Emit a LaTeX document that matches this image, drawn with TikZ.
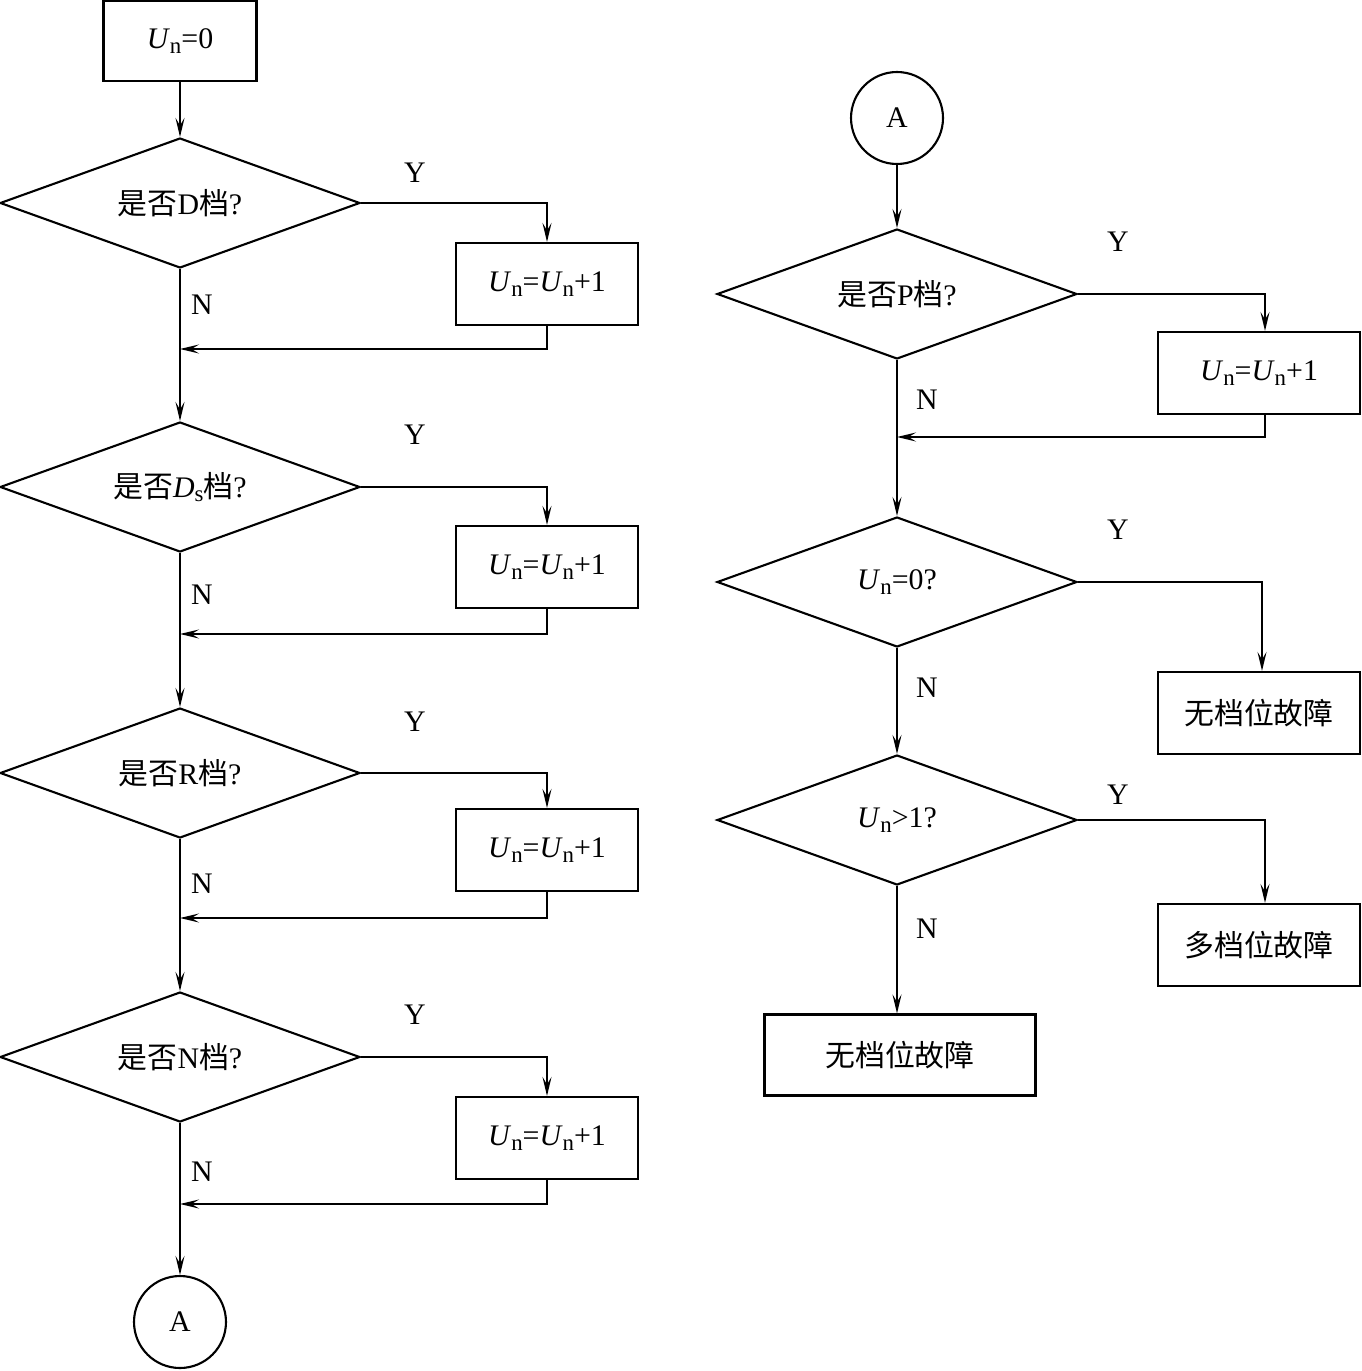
\documentclass[tikz,border=0pt]{standalone}
\usepackage{fontspec}
\setmainfont{Liberation Serif}
\newfontfamily\cjk{Noto Sans CJK SC}
\usetikzlibrary{shapes.geometric,arrows.meta}
\newcommand{\Un}{\textit{U}\raisebox{-0.35ex}{\fontsize{13}{13}\selectfont n}}
\newcommand{\Ds}{\textit{D}\raisebox{-0.35ex}{\fontsize{13}{13}\selectfont s}}
\tikzset{%
  procbox/.style = {rectangle, draw, line width=1.2pt, inner sep=0pt,%
                    minimum width=3.64cm, minimum height=1.64cm},%
  decide/.style  = {diamond, draw, line width=1.2pt, inner sep=0pt, aspect=2.77,%
                    minimum width=7.2cm, minimum height=2.6cm},%
  joint/.style   = {circle, draw, line width=1.2pt, inner sep=0pt, minimum size=1.84cm},%
  yn/.style      = {inner sep=0pt},%
  arr/.style     = {line width=1.2pt, -{Stealth[length=3.8mm,width=1.8mm,inset=1.5mm]}}%
}

\begin{document}
\begin{tikzpicture}[x=0.02cm, y=-0.02cm,
    every node/.style = {font=\fontsize{17}{20}\selectfont}]
  \useasboundingbox (0,0) rectangle (1361,1371);
  % left column
  \node [procbox, minimum width=3.06cm, minimum height=1.6cm] (start) at (180,41) {\Un=0};
  \node [decide] (qd)  at (180,203)  {{\cjk 是否}D{\cjk 档}?};
  \node [decide] (qds) at (180,487)  {{\cjk 是否}\Ds{\cjk 档}?};
  \node [decide] (qr)  at (180,773)  {{\cjk 是否}R{\cjk 档}?};
  \node [decide] (qn)  at (180,1057) {{\cjk 是否}N{\cjk 档}?};
  \node [procbox] (incd)  at (547,284)  {\Un=\Un+1};
  \node [procbox] (incds) at (547,567)  {\Un=\Un+1};
  \node [procbox] (incr)  at (547,850)  {\Un=\Un+1};
  \node [procbox] (incn)  at (547,1138) {\Un=\Un+1};
  \node [joint] (outA) at (180,1322) {A};
  \coordinate (backd)  at (180,349);
  \coordinate (backds) at (180,634);
  \coordinate (backr)  at (180,918);
  \coordinate (backn)  at (180,1204);
  \node [yn] (yd)  at (415,173)  {Y};
  \node [yn] (yds) at (415,435)  {Y};
  \node [yn] (yr)  at (415,722)  {Y};
  \node [yn] (yn4) at (415,1015) {Y};
  \node [yn] (nd)  at (202,305)  {N};
  \node [yn] (nds) at (202,595)  {N};
  \node [yn] (nr)  at (202,884)  {N};
  \node [yn] (nn)  at (202,1172) {N};
  \draw [arr] (start) -- (qd);
  \draw [arr] (qd.east) -| (incd.north);
  \draw [arr] (incd.south) |- (backd);
  \draw [arr] (qd) -- (qds);
  \draw [arr] (qds.east) -| (incds.north);
  \draw [arr] (incds.south) |- (backds);
  \draw [arr] (qds) -- (qr);
  \draw [arr] (qr.east) -| (incr.north);
  \draw [arr] (incr.south) |- (backr);
  \draw [arr] (qr) -- (qn);
  \draw [arr] (qn.east) -| (incn.north);
  \draw [arr] (incn.south) |- (backn);
  \draw [arr] (qn) -- (outA);
  % right column
  \node [joint] (inA) at (897,118) {A};
  \node [decide] (qp)   at (897,294) {{\cjk 是否}P{\cjk 档}?};
  \node [decide] (qzero) at (897,582) {\Un=0?};
  \node [decide] (qmany) at (897,820) {\Un>1?};
  \node [procbox, minimum width=4.04cm] (incp) at (1259,373) {\Un=\Un+1};
  \node [procbox, minimum width=4.04cm] (nogear) at (1259,713) {{\cjk 无档位故障}};
  \node [procbox, minimum width=4.04cm] (multigear) at (1259,945) {{\cjk 多档位故障}};
  \node [procbox, minimum width=5.42cm, minimum height=1.62cm] (nofault) at (900,1055) {{\cjk 无档位故障}};
  \coordinate (backp) at (897,437);
  \node [yn] (yp)    at (1118,242) {Y};
  \node [yn] (yzero) at (1118,530) {Y};
  \node [yn] (ymany) at (1118,795) {Y};
  \node [yn] (np)    at (927,400)  {N};
  \node [yn] (nzero) at (927,688)  {N};
  \node [yn] (nmany) at (927,929)  {N};
  \draw [arr] (inA) -- (qp);
  \draw [arr] (qp.east) -| ([xshift=0.12cm]incp.north);
  \draw [arr] ([xshift=0.12cm]incp.south) |- (backp);
  \draw [arr] (qp) -- (qzero);
  \draw [arr] (qzero.east) -| ([xshift=0.06cm]nogear.north);
  \draw [arr] (qzero) -- (qmany);
  \draw [arr] (qmany.east) -| ([xshift=0.12cm]multigear.north);
  \draw [arr] (qmany.south) -- (qmany.south |- nofault.north);
\end{tikzpicture}
\end{document}
